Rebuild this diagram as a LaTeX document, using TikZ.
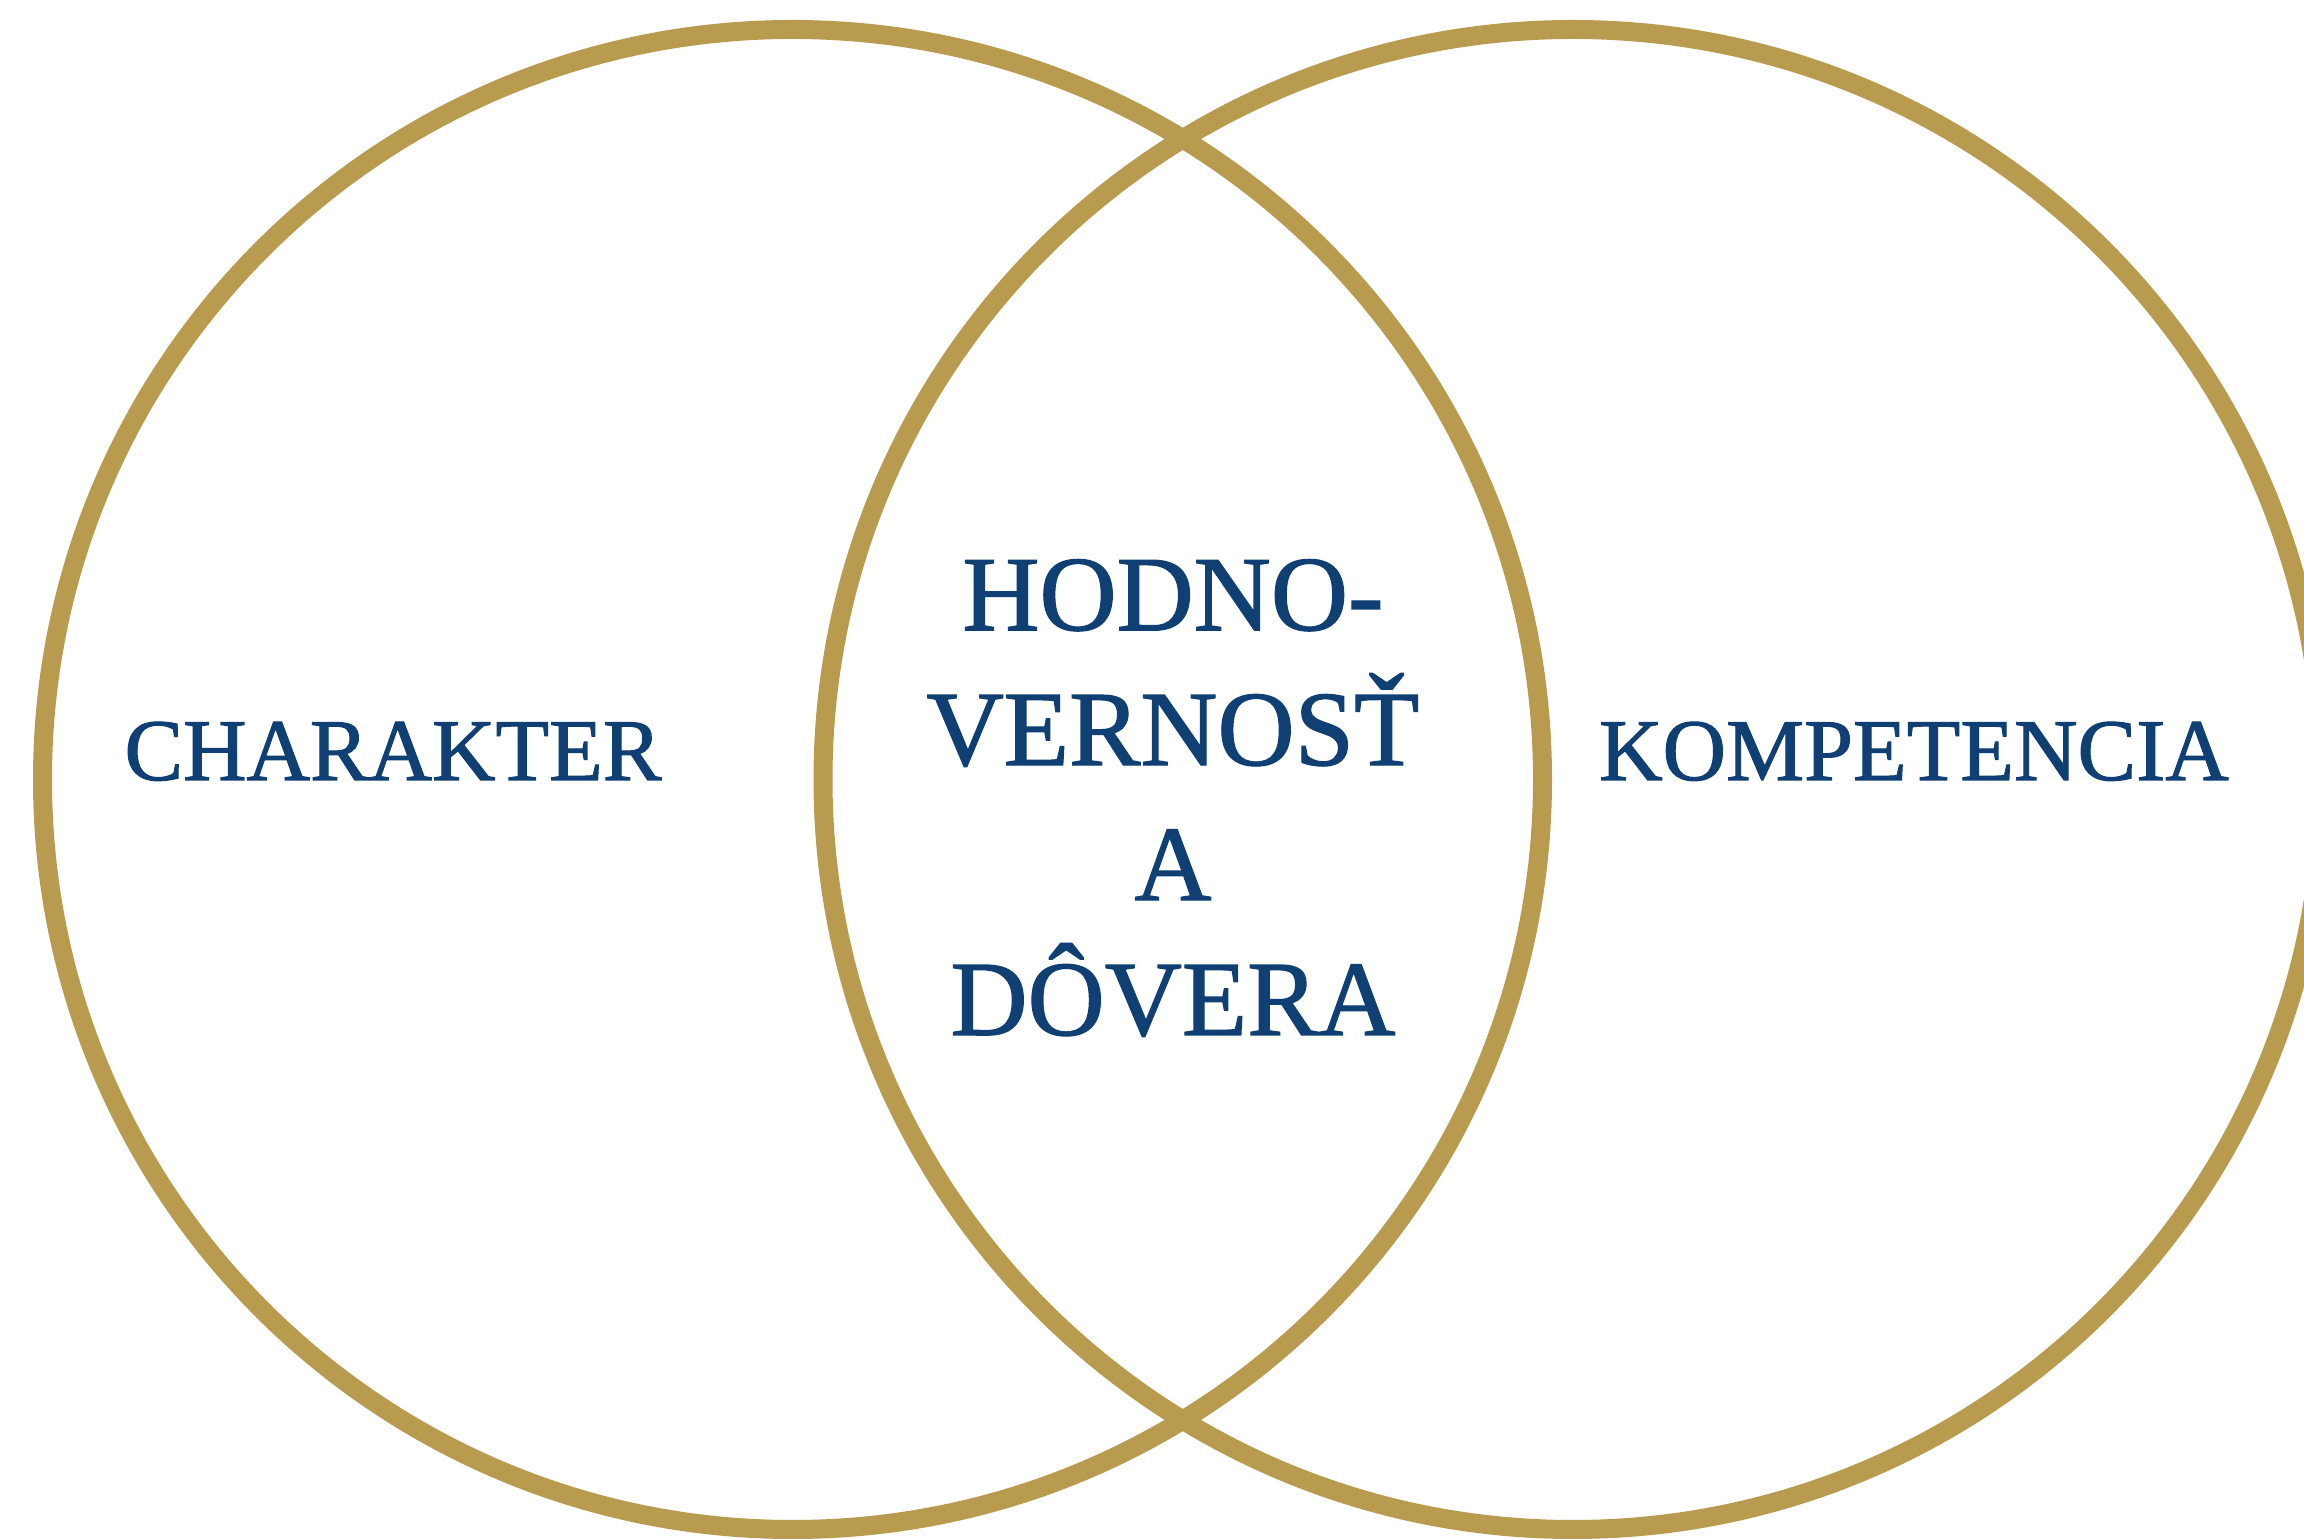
\documentclass[tikz,border=0pt]{standalone}
\usepackage{fontspec}
\setmainfont{Liberation Serif}
\newfontfamily\vennfont{Liberation Serif}[FakeBold=1.2]
\usepackage{tikz}
\usetikzlibrary{positioning}
\definecolor{gold}{HTML}{B99B4F}
\definecolor{navy}{HTML}{0F3F73}
\tikzset{
  ring/.style={circle, draw=gold, line width=0.19cm, minimum size=15cm, inner sep=0pt},
  sidetxt/.style={text=navy, font=\vennfont\fontsize{25pt}{30pt}\selectfont, inner sep=0pt, anchor=base},
  midtxt/.style={text=navy, font=\vennfont\fontsize{30.4pt}{38.4pt}\selectfont, inner sep=0pt, align=center},
}
\begin{document}
\begin{tikzpicture}
  \useasboundingbox (0,0) rectangle (23.04,15.39);
  \clip (0,0) rectangle (23.04,15.39);
  \fill[white] (0,0) rectangle (23.04,15.39);
  \node[ring] (char) at (7.925,7.595) {};
  \node[ring] (komp) at (15.73,7.595) {};
  \node[sidetxt] (chartxt) at (3.93,7.59) {CHARAKTER};
  \node[sidetxt] (komptxt) at (19.14,7.59) {KOMPETENCIA};
  \node[midtxt] (dovera) at (11.73,7.41) {HODNO-\\VERNOSŤ\\A\\DÔVERA};
\end{tikzpicture}
\end{document}
